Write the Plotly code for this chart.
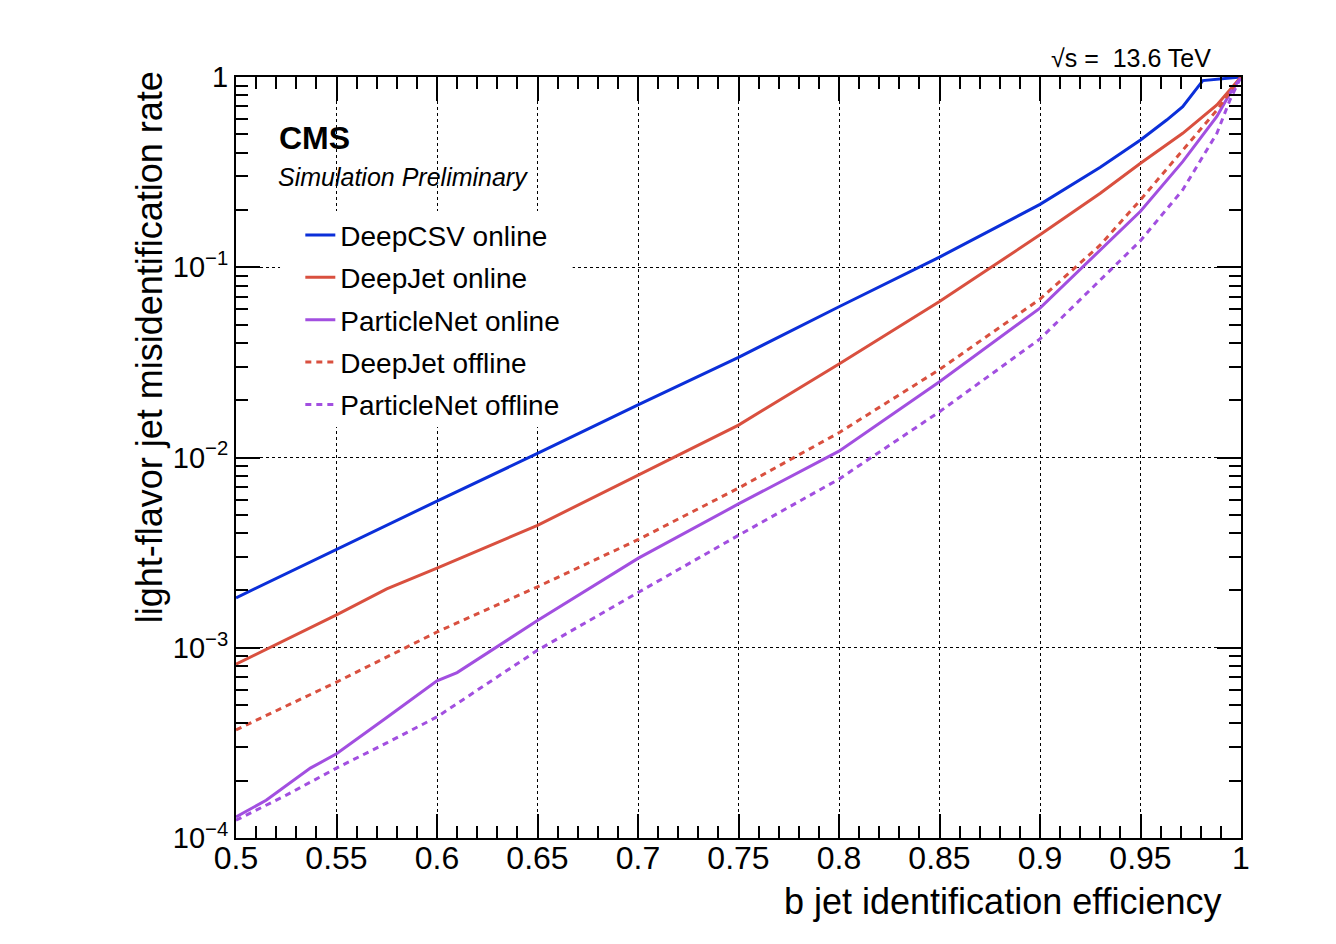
import plotly.graph_objects as go

# b-tag efficiency vs light-flavour mistag rate
deepcsv_on_eff = [0.5, 0.55, 0.6, 0.65, 0.7, 0.75, 0.8, 0.85, 0.9, 0.93, 0.95, 0.963, 0.971, 0.981, 0.99, 1.0]
deepcsv_on_mis = [1.83e-3, 3.29e-3, 5.9e-3, 0.0105, 0.0189, 0.0336, 0.062, 0.113, 0.214, 0.335, 0.467, 0.594, 0.698, 0.957, 0.98, 1.0]

deepjet_on_eff = [0.5, 0.53, 0.55, 0.575, 0.6, 0.65, 0.7, 0.75, 0.8, 0.85, 0.9, 0.93, 0.95, 0.971, 0.988, 1.0]
deepjet_on_mis = [8.2e-4, 1.18e-3, 1.49e-3, 2.04e-3, 2.62e-3, 4.4e-3, 8.1e-3, 0.0148, 0.031, 0.066, 0.148, 0.245, 0.352, 0.506, 0.713, 1.0]

pnet_on_eff = [0.5, 0.515, 0.537, 0.55, 0.575, 0.6, 0.61, 0.63, 0.65, 0.7, 0.75, 0.8, 0.85, 0.9, 0.95, 0.971, 0.988, 0.9945, 1.0]
pnet_on_mis = [1.29e-4, 1.58e-4, 2.33e-4, 2.77e-4, 4.3e-4, 6.7e-4, 7.4e-4, 1.01e-3, 1.39e-3, 2.95e-3, 5.7e-3, 0.0108, 0.025, 0.061, 0.197, 0.359, 0.62, 0.82, 1.0]

deepjet_off_eff = [0.5, 0.55, 0.6, 0.65, 0.7, 0.75, 0.8, 0.85, 0.9, 0.93, 0.95, 0.971, 0.988, 1.0]
deepjet_off_mis = [3.7e-4, 6.6e-4, 1.21e-3, 2.09e-3, 3.7e-3, 6.9e-3, 0.0135, 0.029, 0.068, 0.131, 0.226, 0.413, 0.67, 1.0]

pnet_off_eff = [0.5, 0.525, 0.55, 0.575, 0.6, 0.65, 0.7, 0.75, 0.8, 0.85, 0.9, 0.95, 0.971, 0.988, 0.9945, 1.0]
pnet_off_mis = [1.24e-4, 1.68e-4, 2.33e-4, 3.16e-4, 4.33e-4, 9.7e-4, 1.95e-3, 3.9e-3, 7.7e-3, 0.0174, 0.042, 0.138, 0.255, 0.506, 0.757, 1.0]

y_tickvals = [1e-4, 1e-3, 1e-2, 1e-1, 1]
y_ticktext = ["10<sup>\u22124</sup>", "10<sup>\u22123</sup>", "10<sup>\u22122</sup>", "10<sup>\u22121</sup>", "1"]

BLUE = "#0b2fd9"
RED = "#d9503f"
PURPLE = "#a24fe0"
FONT = "Liberation Sans, Arial, sans-serif"

series = [
    ("DeepCSV online", deepcsv_on_eff, deepcsv_on_mis, BLUE, "solid"),
    ("DeepJet online", deepjet_on_eff, deepjet_on_mis, RED, "solid"),
    ("ParticleNet online", pnet_on_eff, pnet_on_mis, PURPLE, "solid"),
    ("DeepJet offline", deepjet_off_eff, deepjet_off_mis, RED, "6px,5px"),
    ("ParticleNet offline", pnet_off_eff, pnet_off_mis, PURPLE, "6px,5px"),
]

fig = go.Figure()
for name, x, y, col, dash in series:
    fig.add_trace(go.Scatter(x=x, y=y, mode="lines", name=name, legendgroup=name,
                             line=dict(color=col, width=3, dash=dash)))

axis_common = dict(
    showline=True, linecolor="black", linewidth=2, mirror="ticks",
    ticks="inside", ticklen=24, tickwidth=1.5, tickcolor="black",
    showgrid=True, gridcolor="black", gridwidth=1, griddash="dot",
    zeroline=False,
)

fig.update_xaxes(range=[0.5, 1.0], tick0=0.5, dtick=0.05, ticklabelstandoff=-9,
                 tickfont=dict(family=FONT, size=32, color="black"),
                 minor=dict(ticks="inside", ticklen=12, dtick=0.01, tickcolor="black", showgrid=False),
                 **axis_common)
fig.update_yaxes(type="log", range=[-4, 0], tickvals=y_tickvals, ticktext=y_ticktext,
                 tickfont=dict(family=FONT, size=29, color="black"),
                 minor=dict(ticks="inside", ticklen=12, dtick="D1", tickcolor="black", showgrid=False),
                 **axis_common)

# white box behind the legend, hiding the grid as in the original
fig.add_shape(type="rect", xref="paper", yref="paper", x0=0.0438, x1=0.335, y0=0.54, y1=0.824,
              fillcolor="white", line=dict(width=0), layer="above")

fig.add_annotation(text="b jet identification efficiency", xref="paper", yref="paper",
                   x=0.983, y=-0.084, xanchor="right", yanchor="middle", showarrow=False,
                   font=dict(family=FONT, size=36, color="black"))
fig.add_annotation(text="light-flavor jet misidentification rate", xref="paper", yref="paper",
                   x=-0.0866, y=1.01, xanchor="center", yanchor="top", textangle=-90, showarrow=False,
                   font=dict(family=FONT, size=36, color="black"))
fig.add_annotation(text="<b>CMS</b>", xref="paper", yref="paper", x=0.041, y=0.92,
                   xanchor="left", yanchor="middle", showarrow=False,
                   font=dict(family=FONT, size=32, color="black"))
fig.add_annotation(text="<i>Simulation Preliminary</i>", xref="paper", yref="paper", x=0.04, y=0.868,
                   xanchor="left", yanchor="middle", showarrow=False,
                   font=dict(family=FONT, size=25, color="black"))
fig.add_annotation(text="\u221as =  13.6 TeV", xref="paper", yref="paper", x=0.972, y=1.004,
                   xanchor="right", yanchor="bottom", showarrow=False,
                   font=dict(family=FONT, size=25, color="black"))

fig.update_layout(
    width=1320, height=928,
    margin=dict(l=228, r=87, t=69, b=98),
    plot_bgcolor="white", paper_bgcolor="white",
    showlegend=True,
    legend=dict(x=0.064, y=0.825, xanchor="left", yanchor="top", bgcolor="rgba(0,0,0,0)",
                font=dict(family=FONT, size=28, color="black"), tracegroupgap=3),
)

fig.write_html("out.html")
